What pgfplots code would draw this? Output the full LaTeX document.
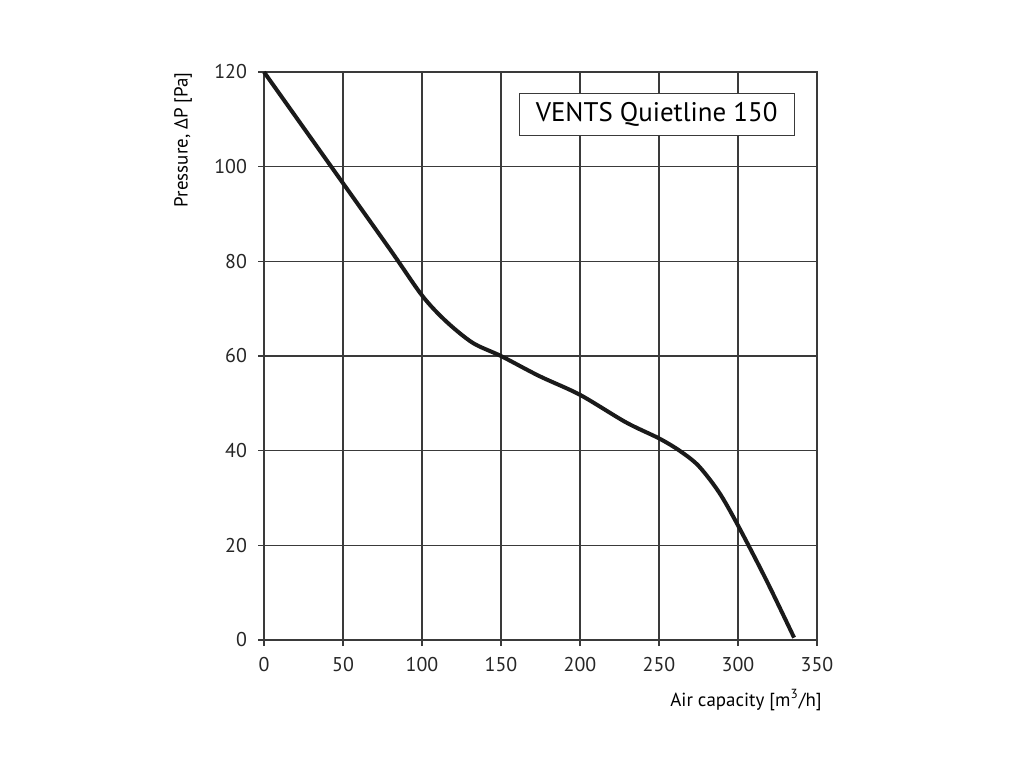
\documentclass[border=0pt]{standalone}
\usepackage{fontspec}
\setmainfont{PT Sans}
\usepackage{pgfplots}
\pgfplotsset{compat=1.18}
\definecolor{gridc}{HTML}{3A3A3A}
\definecolor{curvec}{HTML}{1A1A1A}
\begin{document}
\begin{tikzpicture}[x=1bp,y=1bp]
\path[use as bounding box] (-132,-64) rectangle (380,320);
\begin{axis}[
  at={(0,0)}, anchor=south west,
  scale only axis,
  width=276.5bp, height=284bp,
  xmin=0, xmax=350, ymin=0, ymax=120,
  xtick={0,50,...,350}, ytick={0,20,...,120},
  xtick pos=bottom, ytick pos=left,
  grid=major,
  major grid style={line width=0.75bp, color=gridc},
  axis line style={line width=0.75bp, color=gridc},
  tick style={line width=0.75bp, color=gridc},
  tick align=outside, major tick length=3bp,
  /pgf/number format/assume math mode=true,
  ticklabel style={font=\fontsize{10}{12}\selectfont, color=black!85},
  xticklabel style={yshift=-2bp},
  yticklabel style={xshift=-2bp},
  clip=false,
]
\addplot[line width=2bp, color=curvec, smooth, tension=0.5] coordinates {
(0,120) (40,101.2) (80,82.4) (100,72.8) (115,67.4)
(132,62.8) (150,60) (174,55.8) (200,51.8) (229,46) (250,42.6) (263,40)
(275,36.8) (288,31.2) (300,24.2) (318,12.6) (335.5,0.5)
};
\node[draw=gridc, line width=0.6bp, fill=white, minimum width=137.5bp, minimum height=21bp, inner sep=0pt,
  font=\fontsize{13.5}{16}\selectfont] at (axis cs:248.5,111.1) {VENTS Quietline 150};
\node[anchor=east, font=\fontsize{9.5}{11}\selectfont, inner sep=0pt] at ([xshift=2.5bp,yshift=-30bp]rel axis cs:1,0) {Air capacity [m\textsuperscript{3}/h]};
\node[anchor=east, rotate=90, font=\fontsize{9.5}{11}\selectfont, inner sep=0pt] at ([xshift=-40.5bp]rel axis cs:0,1) {Pressure, ΔP [Pa]};
\end{axis}
\end{tikzpicture}
\end{document}
